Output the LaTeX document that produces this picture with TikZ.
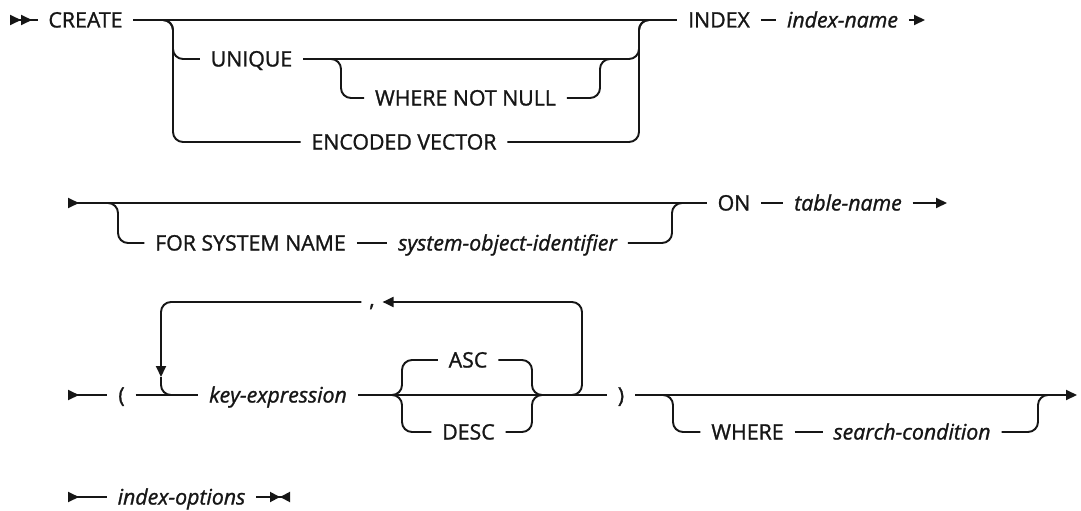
\documentclass[tikz,border=0pt]{standalone}
\usepackage{fontspec}
\setmainfont{Open Sans}[FakeBold=1.2]
\usetikzlibrary{arrows.meta,positioning}
\definecolor{ink}{RGB}{22,22,22}

\begin{document}
\begin{tikzpicture}[x=1pt,y=-1pt,line width=1.9pt,color=ink,font=\fontsize{21.3}{25}\selectfont,
  kw/.style={inner xsep=10pt,inner ysep=0pt,text height=15pt,text depth=0pt},
  var/.style={kw,font=\fontsize{21.3}{25}\selectfont\itshape},
  rail/.style={rounded corners=10pt},
  railstart/.style={arrows={Triangle[reversed,length=11pt,width=10pt]-}},
  railstarttwo/.style={arrows={Triangle[reversed,length=11pt,width=10pt,sep=0pt]Triangle[reversed,length=11pt,width=10pt]-}},
  railend/.style={arrows={-Triangle[length=11pt,width=10pt]}},
  railstop/.style={arrows={-Triangle[length=10pt,width=10pt,sep=0pt]Triangle[reversed,length=10pt,width=10pt]}}]
  \useasboundingbox (0,0) rectangle (1081,511);

  % row 1
  \coordinate (r1s) at (10,20);
  \coordinate (r1e) at (925,20);
  \coordinate (b1l) at (173,20);
  \coordinate (b1r) at (639,20);
  \coordinate (b2l) at (341,59);
  \coordinate (b2r) at (600,59);
  \node[kw] (create) at (85.5,20) {CREATE};
  \node[kw] (index) at (719,20) {INDEX};
  \node[var] (idxname) at (842.5,20) {index-name};
  \node[kw] (unique) at (251.5,59) {UNIQUE};
  \node[kw] (wnn) at (465.5,98) {WHERE NOT NULL};
  \node[kw] (encvec) at (404,142) {ENCODED VECTOR};
  \draw[railstarttwo] (r1s) -- (create.west);
  \draw (create.east) -- (index.west);
  \draw (index.east) -- (idxname.west);
  \draw[railend] (idxname.east) -- (r1e);
  \draw[rail] ([xshift=-12pt]b1l) -- (b1l) |- (unique.west);
  \draw[rail] (unique.east) -| (b1r) -- ([xshift=12pt]b1r);
  \draw[rail] ([xshift=-12pt]b2l) -- (b2l) |- (wnn.west);
  \draw[rail] (wnn.east) -| (b2r) -- ([xshift=12pt]b2r);
  \draw[rail] ([xshift=-12pt]b1l) -- (b1l) |- (encvec.west);
  \draw[rail] (encvec.east) -| (b1r) -- ([xshift=12pt]b1r);

  % row 2
  \coordinate (r2s) at (68,203);
  \coordinate (r2e) at (947,203);
  \coordinate (c1l) at (118,203);
  \coordinate (c1r) at (672,203);
  \node[kw] (forsys) at (250.5,243) {FOR SYSTEM NAME};
  \node[var] (sysid) at (507.5,243) {system-object-identifier};
  \node[kw] (on) at (734,203) {ON};
  \node[var] (tblname) at (848,203) {table-name};
  \draw[railstart] (r2s) -- (on.west);
  \draw (on.east) -- (tblname.west);
  \draw[railend] (tblname.east) -- (r2e);
  \draw[rail] ([xshift=-12pt]c1l) -- (c1l) |- (forsys.west);
  \draw (forsys.east) -- (sysid.west);
  \draw[rail] (sysid.east) -| (c1r) -- ([xshift=12pt]c1r);

  % row 3
  \coordinate (r3s) at (68,395);
  \coordinate (r3e) at (1077,395);
  \coordinate (lpl) at (161,395);
  \coordinate (lpr) at (582,395);
  \coordinate (lptl) at (161,302);
  \coordinate (lptr) at (582,302);
  \coordinate (lpa) at (161,377);
  \coordinate (adl) at (402,395);
  \coordinate (adr) at (532,395);
  \coordinate (wl) at (673,395);
  \coordinate (wr) at (1038,395);
  \node[kw] (lparen) at (121.5,395) {(};
  \node[var] (keyexp) at (278,395) {key-expression};
  \node[kw,inner xsep=7pt] (comma) at (372,302) {\raisebox{3pt}{,}};
  \node[kw] (asc) at (468,360) {ASC};
  \node[kw] (desc) at (468.5,432) {DESC};
  \node[kw] (rparen) at (621,395) {)};
  \node[kw] (where) at (747.5,432) {WHERE};
  \node[var] (searchc) at (912,432) {search-condition};
  \draw[railstart] (r3s) -- (lparen.west);
  \draw (lparen.east) -- (keyexp.west);
  \draw (keyexp.east) -- (rparen.west);
  \draw[railend] (rparen.east) -- (r3e);
  \draw[rail,railend] ([xshift=-15pt]lpr) -- (lpr) -- (lptr) -- (comma.east);
  \draw[rail,railend] (comma.west) -- (lptl) -- (lpa);
  \draw[rail] (lpa) -- (lpl) -- ([xshift=16pt]lpl);
  \draw[rail] ([xshift=-12pt]adl) -- (adl) |- (asc.west);
  \draw[rail] (asc.east) -| (adr) -- ([xshift=12pt]adr);
  \draw[rail] ([xshift=-12pt]adl) -- (adl) |- (desc.west);
  \draw[rail] (desc.east) -| (adr) -- ([xshift=12pt]adr);
  \draw[rail] ([xshift=-12pt]wl) -- (wl) |- (where.west);
  \draw (where.east) -- (searchc.west);
  \draw[rail] (searchc.east) -| (wr) -- ([xshift=12pt]wr);

  % row 4
  \coordinate (r4s) at (68,497);
  \coordinate (r4e) at (290,497);
  \node[var] (idxopt) at (181.5,497) {index-options};
  \draw[railstart] (r4s) -- (idxopt.west);
  \draw[railstop] (idxopt.east) -- (r4e);
\end{tikzpicture}
\end{document}
